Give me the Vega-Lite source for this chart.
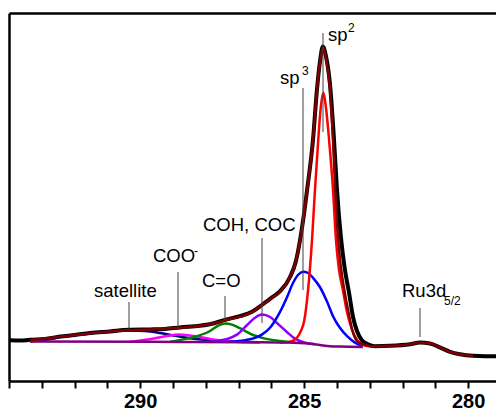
{
  "$schema": "https://vega.github.io/schema/vega-lite/v6.json",
  "width": 487,
  "height": 368,
  "autosize": {"type": "none"},
  "padding": {"left": 9, "top": 13, "right": 0, "bottom": 29},
  "background": "white",
  "config": {"view": {"stroke": null}, "font": "Liberation Sans"},
  "datasets": {
    "curves": [
      {"s": "data", "x": 293.97, "y": 0.02}, {"s": "data", "x": 293.66, "y": 0.01}, {"s": "data", "x": 293.36, "y": 0.03}, {"s": "data", "x": 292.9, "y": 0.05}, {"s": "data", "x": 292.44, "y": 0.11}, {"s": "data", "x": 291.99, "y": 0.15}, {"s": "data", "x": 291.53, "y": 0.2}, {"s": "data", "x": 290.92, "y": 0.24}, {"s": "data", "x": 290.34, "y": 0.28}, {"s": "data", "x": 289.7, "y": 0.29}, {"s": "data", "x": 289.25, "y": 0.3}, {"s": "data", "x": 288.79, "y": 0.34}, {"s": "data", "x": 288.18, "y": 0.38}, {"s": "data", "x": 287.72, "y": 0.45}, {"s": "data", "x": 287.41, "y": 0.53}, {"s": "data", "x": 286.96, "y": 0.62}, {"s": "data", "x": 286.59, "y": 0.73}, {"s": "data", "x": 286.29, "y": 0.9}, {"s": "data", "x": 285.98, "y": 1.09}, {"s": "data", "x": 285.74, "y": 1.24}, {"s": "data", "x": 285.43, "y": 1.6}, {"s": "data", "x": 285.25, "y": 2.0}, {"s": "data", "x": 285.13, "y": 2.5}, {"s": "data", "x": 285.0, "y": 3.2}, {"s": "data", "x": 284.91, "y": 3.78}, {"s": "data", "x": 284.73, "y": 5.03}, {"s": "data", "x": 284.61, "y": 6.28}, {"s": "data", "x": 284.52, "y": 6.97}, {"s": "data", "x": 284.43, "y": 7.36}, {"s": "data", "x": 284.33, "y": 7.1}, {"s": "data", "x": 284.21, "y": 6.4}, {"s": "data", "x": 284.09, "y": 5.03}, {"s": "data", "x": 284.0, "y": 3.8}, {"s": "data", "x": 283.88, "y": 2.6}, {"s": "data", "x": 283.76, "y": 1.8}, {"s": "data", "x": 283.63, "y": 1.2}, {"s": "data", "x": 283.51, "y": 0.6}, {"s": "data", "x": 283.39, "y": 0.25}, {"s": "data", "x": 283.24, "y": 0.02}, {"s": "data", "x": 283.06, "y": -0.08}, {"s": "data", "x": 282.84, "y": -0.13}, {"s": "data", "x": 282.38, "y": -0.12}, {"s": "data", "x": 281.77, "y": -0.08}, {"s": "data", "x": 281.47, "y": -0.04}, {"s": "data", "x": 281.16, "y": -0.06}, {"s": "data", "x": 280.86, "y": -0.16}, {"s": "data", "x": 280.55, "y": -0.27}, {"s": "data", "x": 280.25, "y": -0.33}, {"s": "data", "x": 279.85, "y": -0.37}, {"s": "data", "x": 279.48, "y": -0.38}, {"s": "data", "x": 279.15, "y": -0.38},

      {"s": "env", "x": 293.36, "y": 0.02}, {"s": "env", "x": 292.9, "y": 0.06}, {"s": "env", "x": 292.44, "y": 0.11}, {"s": "env", "x": 291.99, "y": 0.15}, {"s": "env", "x": 291.53, "y": 0.19}, {"s": "env", "x": 290.92, "y": 0.24}, {"s": "env", "x": 290.34, "y": 0.27}, {"s": "env", "x": 289.7, "y": 0.29}, {"s": "env", "x": 289.25, "y": 0.31}, {"s": "env", "x": 288.79, "y": 0.33}, {"s": "env", "x": 288.18, "y": 0.38}, {"s": "env", "x": 287.72, "y": 0.45}, {"s": "env", "x": 287.41, "y": 0.52}, {"s": "env", "x": 286.96, "y": 0.61}, {"s": "env", "x": 286.59, "y": 0.72}, {"s": "env", "x": 286.29, "y": 0.9}, {"s": "env", "x": 285.98, "y": 1.08}, {"s": "env", "x": 285.74, "y": 1.23}, {"s": "env", "x": 285.43, "y": 1.6}, {"s": "env", "x": 285.25, "y": 2.0}, {"s": "env", "x": 285.13, "y": 2.5}, {"s": "env", "x": 285.0, "y": 3.2}, {"s": "env", "x": 284.91, "y": 3.78}, {"s": "env", "x": 284.73, "y": 5.03}, {"s": "env", "x": 284.61, "y": 6.28}, {"s": "env", "x": 284.52, "y": 6.95}, {"s": "env", "x": 284.43, "y": 7.33}, {"s": "env", "x": 284.33, "y": 7.05}, {"s": "env", "x": 284.21, "y": 6.28}, {"s": "env", "x": 284.12, "y": 5.03}, {"s": "env", "x": 284.06, "y": 3.9}, {"s": "env", "x": 283.97, "y": 2.6}, {"s": "env", "x": 283.88, "y": 1.85}, {"s": "env", "x": 283.76, "y": 1.2}, {"s": "env", "x": 283.63, "y": 0.65}, {"s": "env", "x": 283.54, "y": 0.3}, {"s": "env", "x": 283.39, "y": 0.0}, {"s": "env", "x": 283.21, "y": -0.08}, {"s": "env", "x": 282.99, "y": -0.13}, {"s": "env", "x": 282.38, "y": -0.12}, {"s": "env", "x": 281.77, "y": -0.08}, {"s": "env", "x": 281.47, "y": -0.04}, {"s": "env", "x": 281.16, "y": -0.06}, {"s": "env", "x": 280.86, "y": -0.16}, {"s": "env", "x": 280.55, "y": -0.27}, {"s": "env", "x": 280.25, "y": -0.33}, {"s": "env", "x": 279.85, "y": -0.37},

      {"s": "bg", "x": 293.36, "y": -0.01}, {"s": "bg", "x": 289.7, "y": -0.02}, {"s": "bg", "x": 286.65, "y": -0.03}, {"s": "bg", "x": 285.43, "y": -0.04}, {"s": "bg", "x": 285.13, "y": -0.05}, {"s": "bg", "x": 284.82, "y": -0.07}, {"s": "bg", "x": 284.52, "y": -0.1}, {"s": "bg", "x": 284.21, "y": -0.13}, {"s": "bg", "x": 283.91, "y": -0.14}, {"s": "bg", "x": 283.21, "y": -0.15},

      {"s": "sat", "x": 293.36, "y": -0.01}, {"s": "sat", "x": 292.9, "y": 0.04}, {"s": "sat", "x": 292.44, "y": 0.1}, {"s": "sat", "x": 291.99, "y": 0.15}, {"s": "sat", "x": 291.53, "y": 0.19}, {"s": "sat", "x": 290.92, "y": 0.245}, {"s": "sat", "x": 290.34, "y": 0.265}, {"s": "sat", "x": 289.85, "y": 0.25}, {"s": "sat", "x": 289.4, "y": 0.2}, {"s": "sat", "x": 288.94, "y": 0.13}, {"s": "sat", "x": 288.48, "y": 0.07}, {"s": "sat", "x": 287.87, "y": 0.02}, {"s": "sat", "x": 287.26, "y": -0.01}, {"s": "sat", "x": 286.35, "y": -0.03},

      {"s": "coo", "x": 290.31, "y": -0.02}, {"s": "coo", "x": 289.85, "y": 0.03}, {"s": "coo", "x": 289.55, "y": 0.07}, {"s": "coo", "x": 289.15, "y": 0.13}, {"s": "coo", "x": 288.85, "y": 0.16}, {"s": "coo", "x": 288.48, "y": 0.14}, {"s": "coo", "x": 288.18, "y": 0.1}, {"s": "coo", "x": 287.72, "y": 0.03}, {"s": "coo", "x": 287.26, "y": -0.02},

      {"s": "co", "x": 289.09, "y": -0.02}, {"s": "co", "x": 288.69, "y": 0.04}, {"s": "co", "x": 288.27, "y": 0.12}, {"s": "co", "x": 287.87, "y": 0.25}, {"s": "co", "x": 287.63, "y": 0.38}, {"s": "co", "x": 287.41, "y": 0.44}, {"s": "co", "x": 287.2, "y": 0.41}, {"s": "co", "x": 286.96, "y": 0.32}, {"s": "co", "x": 286.56, "y": 0.15}, {"s": "co", "x": 286.19, "y": 0.06}, {"s": "co", "x": 285.74, "y": 0.0}, {"s": "co", "x": 285.28, "y": -0.04},

      {"s": "coh", "x": 287.87, "y": -0.02}, {"s": "coh", "x": 287.35, "y": 0.05}, {"s": "coh", "x": 287.05, "y": 0.16}, {"s": "coh", "x": 286.74, "y": 0.4}, {"s": "coh", "x": 286.5, "y": 0.58}, {"s": "coh", "x": 286.29, "y": 0.66}, {"s": "coh", "x": 286.04, "y": 0.6}, {"s": "coh", "x": 285.83, "y": 0.45}, {"s": "coh", "x": 285.52, "y": 0.22}, {"s": "coh", "x": 285.28, "y": 0.06}, {"s": "coh", "x": 284.97, "y": -0.04}, {"s": "coh", "x": 284.67, "y": -0.08},

      {"s": "sp3", "x": 287.26, "y": -0.02}, {"s": "sp3", "x": 286.8, "y": 0.02}, {"s": "sp3", "x": 286.5, "y": 0.08}, {"s": "sp3", "x": 286.29, "y": 0.16}, {"s": "sp3", "x": 286.04, "y": 0.33}, {"s": "sp3", "x": 285.74, "y": 0.72}, {"s": "sp3", "x": 285.52, "y": 1.1}, {"s": "sp3", "x": 285.34, "y": 1.45}, {"s": "sp3", "x": 285.19, "y": 1.65}, {"s": "sp3", "x": 285.03, "y": 1.73}, {"s": "sp3", "x": 284.88, "y": 1.7}, {"s": "sp3", "x": 284.73, "y": 1.58}, {"s": "sp3", "x": 284.52, "y": 1.35}, {"s": "sp3", "x": 284.3, "y": 0.98}, {"s": "sp3", "x": 284.12, "y": 0.62}, {"s": "sp3", "x": 283.91, "y": 0.33}, {"s": "sp3", "x": 283.69, "y": 0.12}, {"s": "sp3", "x": 283.45, "y": -0.04}, {"s": "sp3", "x": 283.21, "y": -0.13},

      {"s": "sp2", "x": 285.74, "y": -0.04}, {"s": "sp2", "x": 285.43, "y": -0.02}, {"s": "sp2", "x": 285.22, "y": 0.08}, {"s": "sp2", "x": 285.1, "y": 0.25}, {"s": "sp2", "x": 285.0, "y": 0.5}, {"s": "sp2", "x": 284.88, "y": 1.28}, {"s": "sp2", "x": 284.76, "y": 2.53}, {"s": "sp2", "x": 284.67, "y": 3.78}, {"s": "sp2", "x": 284.57, "y": 5.03}, {"s": "sp2", "x": 284.51, "y": 5.7}, {"s": "sp2", "x": 284.42, "y": 6.2}, {"s": "sp2", "x": 284.33, "y": 5.8}, {"s": "sp2", "x": 284.24, "y": 5.03}, {"s": "sp2", "x": 284.12, "y": 3.78}, {"s": "sp2", "x": 284.03, "y": 2.53}, {"s": "sp2", "x": 283.94, "y": 1.8}, {"s": "sp2", "x": 283.82, "y": 1.28}, {"s": "sp2", "x": 283.7, "y": 0.75}, {"s": "sp2", "x": 283.54, "y": 0.28}, {"s": "sp2", "x": 283.39, "y": 0.03}, {"s": "sp2", "x": 283.21, "y": -0.1}, {"s": "sp2", "x": 282.99, "y": -0.13}
    ],
    "pointers": [
      {"x": 284.425, "y1": 7.7, "y2": 5.225},
      {"x": 285.035, "y1": 6.325, "y2": 1.275},
      {"x": 286.285, "y1": 2.575, "y2": 0.45},
      {"x": 288.847, "y1": 1.725, "y2": 0.275},
      {"x": 287.414, "y1": 1.125, "y2": 0.525},
      {"x": 290.341, "y1": 0.975, "y2": 0.3},
      {"x": 281.467, "y1": 0.825, "y2": 0.1}
    ],
    "labels": [
      {"kind": "main", "x": 284.273, "y": 7.5, "t": "sp"},
      {"kind": "script", "x": 283.663, "y": 7.725, "t": "2"},
      {"kind": "main", "x": 285.737, "y": 6.425, "t": "sp"},
      {"kind": "script", "x": 285.066, "y": 6.65, "t": "3"},
      {"kind": "main", "x": 288.084, "y": 2.75, "t": "COH, COC"},
      {"kind": "main", "x": 289.609, "y": 1.975, "t": "COO"},
      {"kind": "script", "x": 288.359, "y": 2.15, "t": "-"},
      {"kind": "main", "x": 288.115, "y": 1.35, "t": "C=O"},
      {"kind": "main", "x": 291.408, "y": 1.1, "t": "satellite"},
      {"kind": "main", "x": 282.017, "y": 1.1, "t": "Ru3d"},
      {"kind": "script", "x": 280.736, "y": 0.9, "t": "5/2"}
    ]
  },
  "layer": [
    {
      "data": {"name": "curves"},
      "transform": [{"filter": "datum.s === 'data'"}],
      "mark": {"type": "line", "color": "black", "strokeWidth": 4, "interpolate": "monotone"},
      "encoding": {
        "x": {"field": "x", "type": "quantitative",
          "scale": {"domain": [279.15, 294], "reverse": true, "nice": false, "zero": false},
          "axis": {"orient": "bottom", "values": [280, 281, 282, 283, 284, 285, 286, 287, 288, 289, 290, 291, 292, 293, 294],
            "labelExpr": "datum.value % 5 === 0 ? datum.label : ''", "title": null, "grid": false,
            "domainColor": "black", "domainWidth": 2.5, "tickColor": "black", "tickWidth": 2, "tickSize": 7,
            "labelFont": "Liberation Sans", "labelFontWeight": "bold", "labelFontSize": 20, "labelColor": "black",
            "labelPadding": 3, "labelOverlap": false, "labelFlush": false,
            "encode": {"ticks": {"update": {"y2": {"signal": "datum.value % 5 === 0 ? 7 : 4"}}}}}},
        "y": {"field": "y", "type": "quantitative",
          "scale": {"domain": [-1, 8.2], "nice": false, "zero": false},
          "axis": {"orient": "left", "labels": false, "ticks": false, "title": null, "grid": false, "domainColor": "black", "domainWidth": 2.5}}
      }
    },
    {
      "data": {"name": "curves"},
      "transform": [{"filter": "datum.s !== 'data' && datum.s !== 'env' && datum.s !== 'bg'"}],
      "mark": {"type": "line", "strokeWidth": 2.5, "interpolate": "monotone"},
      "encoding": {
        "x": {"field": "x", "type": "quantitative",
          "axis": {"orient": "top", "labels": false, "ticks": false, "title": null, "grid": false, "domainColor": "black", "domainWidth": 2.5}},
        "y": {"field": "y", "type": "quantitative"},
        "color": {"field": "s", "type": "nominal", "legend": null,
          "scale": {"domain": ["sat", "coo", "co", "coh", "sp3", "sp2"], "range": ["#000080", "#FF00FF", "#008000", "#8B00FF", "#0000FF", "#FF0000"]}}
      }
    },
    {
      "data": {"name": "curves"},
      "transform": [{"filter": "datum.s === 'bg'"}],
      "mark": {"type": "line", "color": "#800080", "strokeWidth": 2.5, "interpolate": "monotone"},
      "encoding": {
        "x": {"field": "x", "type": "quantitative", "axis": null},
        "y": {"field": "y", "type": "quantitative"}
      }
    },
    {
      "data": {"name": "curves"},
      "transform": [{"filter": "datum.s === 'env'"}],
      "mark": {"type": "line", "color": "#800000", "strokeWidth": 2.5, "interpolate": "monotone"},
      "encoding": {
        "x": {"field": "x", "type": "quantitative", "axis": null},
        "y": {"field": "y", "type": "quantitative"}
      }
    },
    {
      "data": {"name": "pointers"},
      "mark": {"type": "rule", "color": "#404040", "strokeWidth": 1},
      "encoding": {
        "x": {"field": "x", "type": "quantitative", "axis": null},
        "y": {"field": "y1", "type": "quantitative"},
        "y2": {"field": "y2"}
      }
    },
    {
      "data": {"name": "labels"},
      "transform": [{"filter": "datum.kind === 'main'"}],
      "mark": {"type": "text", "align": "left", "baseline": "alphabetic", "fontSize": 18.5, "font": "Liberation Sans", "color": "black"},
      "encoding": {
        "x": {"field": "x", "type": "quantitative", "axis": null},
        "y": {"field": "y", "type": "quantitative"},
        "text": {"field": "t"}
      }
    },
    {
      "data": {"name": "labels"},
      "transform": [{"filter": "datum.kind === 'script'"}],
      "mark": {"type": "text", "align": "left", "baseline": "alphabetic", "fontSize": 12, "font": "Liberation Sans", "color": "black"},
      "encoding": {
        "x": {"field": "x", "type": "quantitative", "axis": null},
        "y": {"field": "y", "type": "quantitative"},
        "text": {"field": "t"}
      }
    }
  ],
  "resolve": {"axis": {"x": "independent"}}
}
